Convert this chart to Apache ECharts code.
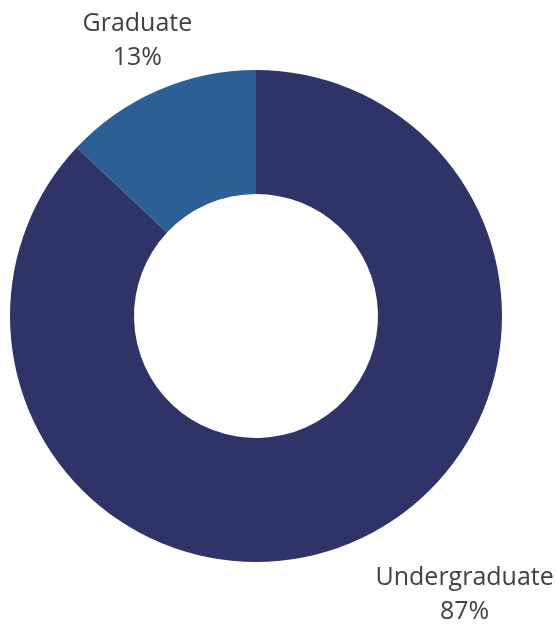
<!DOCTYPE html>
<html>
<head>
<meta charset="utf-8">
<script src="https://cdn.jsdelivr.net/npm/echarts@6/dist/echarts.min.js"></script>
<style>
  html, body { margin: 0; padding: 0; background: #fff; }
  #chart { width: 556px; height: 625px; }
</style>
</head>
<body>
<div id="chart"></div>
<script>
const categories = ["Undergraduate", "Graduate"];
const shares = [87, 13];
const sliceColors = ["#2e3468", "#2c5f96"];

// nudge the outside labels to where the original placed them
const labelShift = [
  { dx: 98, dy: 35 },
  { dx: -8, dy: -31 },
];

const chart = echarts.init(document.getElementById("chart"));

chart.setOption({
  animation: false,
  series: [
    {
      type: "pie",
      center: [256, 316],
      radius: [122, 246],
      startAngle: 90,
      clockwise: true,
      avoidLabelOverlap: false,
      itemStyle: { borderWidth: 0 },
      emphasis: { disabled: true },
      data: categories.map((name, i) => ({
        name: name,
        value: shares[i],
        itemStyle: { color: sliceColors[i] },
      })),
      label: {
        show: true,
        position: "outside",
        formatter: "{b}\n{d}%",
        fontFamily: "Open Sans",
        fontSize: 25,
        lineHeight: 34,
        color: "#404040",
      },
      labelLine: { show: false, length: 20, length2: 0 },
      labelLayout: function (params) {
        const s = labelShift[params.dataIndex];
        return { align: "center", dx: s.dx, dy: s.dy };
      },
    },
  ],
});
</script>
</body>
</html>
